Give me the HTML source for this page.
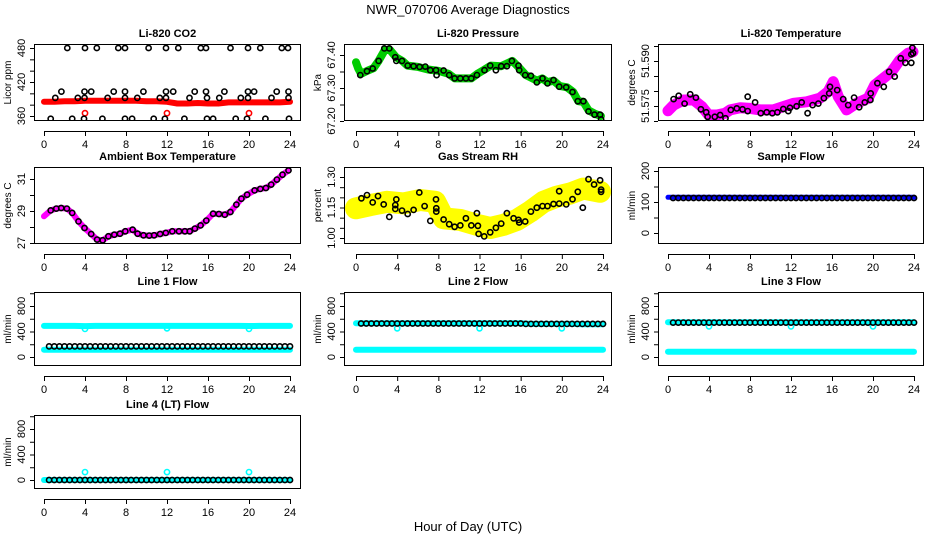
<!DOCTYPE html>
<html><head><meta charset="utf-8"><style>
html,body{margin:0;padding:0;background:#fff}
svg{display:block}
text{font-family:"Liberation Sans",sans-serif}
</style></head><body>
<svg id="chart" width="936" height="540" viewBox="0 0 936 540" xmlns="http://www.w3.org/2000/svg">
<text x="468" y="14" text-anchor="middle" font-size="13">NWR_070706  Average Diagnostics</text>
<text x="468" y="531" text-anchor="middle" font-size="13">Hour of Day (UTC)</text>
</svg>
<script>
// ---------- data ----------
const HOURS = [0,1,2,3,4,5,6,7,8,9,10,11,12,13,14,15,16,17,18,19,20,21,22,23,24];
const HALF = [0.5,1,1.5,2,2.5,3,3.5,4,4.5,5,5.5,6,6.5,7,7.5,8,8.5,9,9.5,10,10.5,11,11.5,12,12.5,13,13.5,14,14.5,15,15.5,16,16.5,17,17.5,18,18.5,19,19.5,20,20.5,21,21.5,22,22.5,23,23.5,24];
const XTICKS = [0,4,8,12,16,20,24];

const co2Red = [385,385,386,386,387,387,387,387,387,387,386,386,385,382,382,383,382,382,384,384,384,384,384,384,385];
const co2RedOutX = [4,12,20];
const co2RedOutY = [365,365,365];
const co2BlackX = [2.27,4.0,5.15,7.25,7.9,10.2,11.9,13.1,15.3,15.8,18.2,19.9,21.1,23.2,23.8,
 0.65,2.75,3.9,5.7,7.9,8.6,10.7,11.8,13.7,15.9,16.5,18.7,19.8,21.6,23.9,
 1.7,3.95,4.6,6.8,7.9,9.7,11.9,12.6,14.7,15.8,17.6,19.9,20.5,22.7,23.85,
 1.1,3.3,3.95,6.2,7.9,9.1,11.3,11.9,14.2,15.9,17.1,19.2,19.9,22.2,23.85];
const co2BlackY = [480,480,480,480,480,480,480,480,480,480,480,480,480,480,480,
 355,355,355,355,355,355,355,355,355,355,355,355,355,355,355,
 403,403,403,403,403,403,403,403,403,403,403,403,403,403,403,
 392,392,392,392,392,392,392,392,392,392,392,392,392,392,392];

const presX = [0.42,1.07,1.62,2.2,2.75,3.24,3.82,3.92,4.47,5.02,5.6,6.18,6.73,7.22,7.77,7.83,8.51,9.06,9.58,10.13,10.68,11.2,11.75,12.49,13.04,13.59,14.11,14.66,15.15,15.79,15.86,16.44,16.99,17.57,18.12,18.61,19.19,19.74,20.42,21.04,21.55,22.1,22.59,23.17,23.72,23.82];
const presY = [67.339,67.351,67.359,67.382,67.420,67.420,67.393,67.382,67.382,67.368,67.366,67.364,67.365,67.354,67.354,67.339,67.353,67.339,67.329,67.329,67.329,67.329,67.339,67.354,67.368,67.354,67.366,67.366,67.382,67.368,67.354,67.339,67.337,67.317,67.329,67.314,67.324,67.304,67.302,67.288,67.260,67.260,67.229,67.219,67.219,67.205];
const presGreenX = [0,0.2,0.5,1.1,1.7,2.2,2.8,3.3,3.9,4.5,5.0,6.0,7.0,8.0,9.0,9.6,11.2,11.8,12.5,13.1,14.1,15.2,15.9,16.5,17.6,18.1,18.6,19.2,19.8,20.5,21.1,21.6,22.1,22.6,23.2,23.8];
const presGreenY = [67.378,67.36,67.343,67.352,67.36,67.382,67.415,67.415,67.393,67.382,67.368,67.364,67.356,67.352,67.343,67.329,67.329,67.343,67.356,67.368,67.366,67.382,67.36,67.339,67.322,67.329,67.318,67.322,67.306,67.302,67.288,67.26,67.258,67.232,67.222,67.215];

const ltempX = [0.55,1.04,1.62,2.17,2.72,3.21,3.73,3.86,4.57,5.09,5.61,6.13,6.71,7.27,7.78,7.78,8.5,9.05,9.63,10.18,10.67,11.25,11.74,11.9,12.55,13.04,13.62,14.11,14.66,15.21,15.73,15.8,16.51,17.09,17.58,18.16,18.65,19.2,19.75,19.78,20.43,21.05,21.57,22.12,22.7,23.16,23.74,23.74,23.9,23.84];
const ltempY = [51.5773,51.5784,51.5758,51.5789,51.5778,51.5739,51.5729,51.5714,51.5714,51.5720,51.5709,51.5737,51.5742,51.5739,51.5733,51.5781,51.5762,51.5726,51.5729,51.5726,51.5729,51.5740,51.5733,51.5744,51.5749,51.5762,51.5726,51.5753,51.5758,51.5776,51.5792,51.5814,51.5803,51.5773,51.5753,51.5778,51.5746,51.5762,51.5770,51.5792,51.5826,51.5814,51.5864,51.5848,51.5909,51.5894,51.5894,51.5922,51.5926,51.5944];
const ltempPinkX = [0,0.55,1.52,2.5,3.31,3.96,4.77,5.58,6.07,7.04,8.01,8.98,10.28,11.26,12.23,13.53,14.82,15.63,16.12,16.61,17.42,18.39,19.53,20.18,20.99,21.8,22.61,23.42,23.9];
const ltempPinkY = [51.5734,51.5753,51.5770,51.5770,51.5748,51.5720,51.5720,51.5726,51.5737,51.5744,51.5742,51.5737,51.5737,51.5748,51.5759,51.5764,51.5776,51.5798,51.5831,51.5781,51.5737,51.5759,51.5776,51.5820,51.5842,51.5864,51.5903,51.5926,51.5931];

const ambX = [0,0.65,1.2,1.68,2.23,2.75,3.37,3.95,4.6,5.18,5.73,6.28,6.86,7.41,7.93,8.64,9.13,9.71,10.26,10.74,11.33,11.88,12.52,13.17,13.75,14.21,14.72,15.28,15.83,16.5,17.06,17.64,18.19,18.77,19.26,19.81,20.55,21.1,21.65,22.17,22.72,23.27,23.85];
const ambY = [28.67,29.04,29.15,29.19,29.15,28.88,28.35,27.94,27.56,27.21,27.17,27.42,27.52,27.58,27.73,27.83,27.58,27.48,27.46,27.48,27.56,27.63,27.73,27.73,27.73,27.73,27.90,28.10,28.40,28.83,28.81,28.77,28.94,29.40,29.77,30.02,30.29,30.38,30.44,30.65,30.96,31.27,31.54];

const rhX = [0.52,1.07,1.62,2.14,2.69,3.24,3.82,3.82,3.92,4.47,5.02,5.6,6.15,6.67,7.22,7.77,7.8,7.8,8.51,9.06,9.58,10.13,10.68,11.2,11.75,11.84,11.91,12.46,13.04,13.59,14.11,14.66,15.31,15.79,15.86,16.44,16.99,17.57,18.12,18.61,19.19,19.74,19.74,20.42,21.04,21.55,22.04,22.59,23.14,23.72,23.82,23.82];
const rhY = [1.195,1.211,1.175,1.206,1.165,1.104,1.162,1.143,1.190,1.135,1.118,1.138,1.224,1.157,1.084,1.190,1.146,1.130,1.091,1.068,1.055,1.062,1.097,1.062,1.122,1.060,1.020,1.008,1.028,1.050,1.071,1.122,1.097,1.089,1.076,1.081,1.130,1.149,1.157,1.157,1.167,1.169,1.230,1.165,1.191,1.227,1.149,1.289,1.263,1.284,1.238,1.227];
const rhYellowX = [0,1.39,3.01,4.63,6.25,7.7,8.51,10.13,11.75,13.04,14.34,15.63,16.93,18.22,19.51,20.81,22.1,23.72];
const rhYellowY = [1.146,1.162,1.178,1.170,1.187,1.178,1.097,1.089,1.065,1.049,1.065,1.089,1.130,1.178,1.203,1.219,1.243,1.227];

const sampleBlue = [115,115,115,115,115,115,115,115,115,115,115,115,115,115,115,115,115,115,115,115,115,115,115,115,115];
const sampleBlack = [113,113,113,113,113,113,113,113,113,113,113,113,113,113,113,113,113,113,113,113,113,113,113,113,113,113,113,113,113,113,113,113,113,113,113,113,113,113,113,113,113,113,113,113,113,113,113,113];

const l1CyanHi = [488,488,488,488,485,488,488,488,488,488,488,488,488,488,488,488,488,488,488,488,486,488,488,488,488];
const l1CyanLo = [114,114,114,114,114,114,114,114,114,114,114,114,114,114,114,114,114,114,114,114,114,114,114,114,114];
const l1Black = [166,166,166,166,166,166,166,166,166,166,166,166,166,166,166,166,166,166,166,166,166,166,166,166,166,166,166,166,166,166,166,166,166,166,166,166,166,166,166,166,166,166,166,166,166,166,166,166];
const l2CyanHi = [530,530,530,530,530,530,530,530,530,530,530,530,530,530,530,530,530,520,520,520,520,520,515,515,515];
const l2CyanLo = [114,114,114,114,114,114,114,114,114,114,114,114,114,114,114,114,114,114,114,114,114,114,114,114,114];
const l2Black = [525,525,525,525,525,525,525,525,525,525,525,525,525,525,525,525,525,525,525,525,525,525,525,525,525,525,525,525,525,525,525,525,520,520,520,520,520,520,520,520,520,520,520,520,520,520,520,520];
const l3CyanHi = [545,545,545,545,545,545,545,545,545,545,545,545,545,545,545,545,545,545,545,545,545,545,545,545,545];
const l3CyanLo = [83,83,83,83,83,83,83,83,83,83,83,83,83,83,83,83,83,83,83,83,83,83,83,83,83];
const l3Black = [540,540,540,540,540,540,540,540,540,540,540,540,540,540,540,540,540,540,540,540,540,540,540,540,540,540,540,540,540,540,540,540,540,540,540,540,540,540,540,540,540,540,540,540,540,540,540,540];
const l4Cyan = [0,0,0,0,0,0,0,0,0,0,0,0,0,0,0,0,0,0,0,0,0,0,0,0,0];
const l4Black = [0,0,0,0,0,0,0,0,0,0,0,0,0,0,0,0,0,0,0,0,0,0,0,0,0,0,0,0,0,0,0,0,0,0,0,0,0,0,0,0,0,0,0,0,0,0,0,0];
const flowOutX = [4,12,20];
const l1OutY = [440,450,440];
const l2OutY = [450,450,450];
const l3OutY = [480,480,480];
const l4OutY = [124,124,124];

// ---------- layout ----------
const COLS = [{l:34,r:301,x0:44,x24:290},{l:344,r:612,x0:356,x24:603},{l:658,r:924,x0:668,x24:914}];
const ROWS = [{t:44,b:121},{t:167,b:244},{t:292,b:366},{t:415,b:489}];
const svg = document.getElementById('chart');
const NS = 'http://www.w3.org/2000/svg';
function mk(tag, parent){ const e=document.createElementNS(NS,tag); parent.appendChild(e); return e; }

function panel(cfg){
  const C=COLS[cfg.col], R=ROWS[cfg.row];
  const g=mk('g',svg);
  
  
  const xs=h=>C.x0+(C.x24-C.x0)*h/24;
  const [v1,p1,v2,p2]=cfg.yref;
  const ys=v=>p1+(v-v1)*(p2-p1)/(v2-v1);
  // clip
  const cid='clip-'+cfg.name;
  const cp=mk('clipPath',g); cp.setAttribute('id',cid);
  const cr=mk('rect',cp); cr.setAttribute('x',C.l); cr.setAttribute('y',R.t); cr.setAttribute('width',C.r-C.l); cr.setAttribute('height',R.b-R.t);
  const plot=mk('g',g); plot.setAttribute('clip-path','url(#'+cid+')');
  
  
  cfg.layers.forEach(L=>{
    if(L.type==='band'){
      const pl=mk('polyline',plot);
      
      
      pl.setAttribute('points', L.x.map((h,i)=>xs(h).toFixed(1)+','+ys(L.y[i]).toFixed(1)).join(' '));
      pl.setAttribute('fill','none'); pl.setAttribute('stroke',L.color);
      pl.setAttribute('stroke-width',L.w); pl.setAttribute('stroke-linejoin','round'); pl.setAttribute('stroke-linecap','round');
    } else {
      L.x.forEach((h,i)=>{
        const c=mk('circle',plot);
        
        
        c.setAttribute('cx',xs(h).toFixed(1)); c.setAttribute('cy',ys(L.y[i]).toFixed(1));
        c.setAttribute('r',L.r||2.6); c.setAttribute('fill','none');
        c.setAttribute('stroke',L.color); c.setAttribute('stroke-width',L.sw||1.6);
      });
    }
  });
  // box
  const box=mk('rect',g);
  
  
  box.setAttribute('x',C.l+0.5); box.setAttribute('y',R.t+0.5); box.setAttribute('width',C.r-C.l-1); box.setAttribute('height',R.b-R.t-1);
  box.setAttribute('fill','none'); box.setAttribute('stroke','#000'); box.setAttribute('stroke-width','1');
  // title
  const ti=mk('text',g);
  
  
  ti.setAttribute('x',(C.l+C.r)/2); ti.setAttribute('y',R.t-7); ti.setAttribute('text-anchor','middle');
  ti.setAttribute('font-size','11'); ti.setAttribute('font-weight','bold'); ti.textContent=cfg.title;
  // x axis
  const ay=R.b+10;
  const xa=mk('line',g);
  
  
  xa.setAttribute('x1',xs(0)); xa.setAttribute('x2',xs(24)); xa.setAttribute('y1',ay+0.5); xa.setAttribute('y2',ay+0.5); xa.setAttribute('stroke','#000');
  XTICKS.forEach(h=>{
    const tk=mk('line',g);
    
    
    tk.setAttribute('x1',xs(h)+0.5); tk.setAttribute('x2',xs(h)+0.5); tk.setAttribute('y1',ay); tk.setAttribute('y2',ay+5); tk.setAttribute('stroke','#000');
    if(cfg.xlabels){
      const tl=mk('text',g);
      
      
      tl.setAttribute('x',xs(h)); tl.setAttribute('y',ay+17); tl.setAttribute('text-anchor','middle'); tl.setAttribute('font-size','11');
      tl.textContent=String(h);
    }
  });
  // y axis
  const yt=cfg.yticks;
  const ya=mk('line',g);
  
  
  ya.setAttribute('x1',C.l+0.5); ya.setAttribute('x2',C.l+0.5); ya.setAttribute('y1',ys(yt[0])); ya.setAttribute('y2',ys(yt[yt.length-1])); ya.setAttribute('stroke','#000');
  yt.forEach(v=>{
    const y=ys(v);
    if(y<R.t-1||y>R.b+1) return;
    const tk=mk('line',g);
    
    
    tk.setAttribute('x1',C.l-4); tk.setAttribute('x2',C.l); tk.setAttribute('y1',y+0.5); tk.setAttribute('y2',y+0.5); tk.setAttribute('stroke','#000');
  });
  cfg.ylabels.forEach((lab,i)=>{
    const y=ys(cfg.ylabelVals[i]);
    const tl=mk('text',g);
    
    
    tl.setAttribute('transform','translate('+(C.l-9)+','+y+') rotate(-90)');
    tl.setAttribute('text-anchor','middle'); tl.setAttribute('font-size','11');
    tl.textContent=lab;
  });
  const yl=mk('text',g);
  
  
  yl.setAttribute('transform','translate('+(C.l-23)+','+((R.t+R.b)/2)+') rotate(-90)');
  yl.setAttribute('text-anchor','middle'); yl.setAttribute('font-size','10'); yl.textContent=cfg.ylab;
}

const flowTicks=[0,200,400,600,800,1000];
panel({name:'co2-panel',col:0,row:0,title:'Li-820 CO2',ylab:'Licor ppm',xlabels:true,yref:[480,48,360,116],
  yticks:[360,380,400,420,440,460,480],ylabels:['360','420','480'],ylabelVals:[360,420,480],
  layers:[{type:'band',name:'co2-red-band',x:HOURS,y:co2Red,color:'#ff0000',w:6},
          {type:'pts',name:'co2-red-point',x:co2RedOutX,y:co2RedOutY,color:'#ff0000'},
          {type:'pts',name:'co2-black-point',x:co2BlackX,y:co2BlackY,color:'#000'}]});
panel({name:'pressure-panel',col:1,row:0,title:'Li-820 Pressure',ylab:'kPa',xlabels:true,yref:[67.40,55,67.20,121],
  yticks:[67.20,67.25,67.30,67.35,67.40],ylabels:['67.20','67.30','67.40'],ylabelVals:[67.20,67.30,67.40],
  layers:[{type:'band',name:'pressure-green-band',x:presGreenX,y:presGreenY,color:'#00cc00',w:8},
          {type:'pts',name:'pressure-black-point',x:presX,y:presY,color:'#000'}]});
panel({name:'li820-temp-panel',col:2,row:0,title:'Li-820 Temperature',ylab:'degrees C',xlabels:true,yref:[51.590,61,51.575,106],
  yticks:[51.570,51.575,51.580,51.585,51.590,51.595],ylabels:['51.575','51.590'],ylabelVals:[51.575,51.590],
  layers:[{type:'band',name:'li820-temp-magenta-band',x:ltempPinkX,y:ltempPinkY,color:'#ff00ff',w:11},
          {type:'pts',name:'li820-temp-black-point',x:ltempX,y:ltempY,color:'#000'}]});
panel({name:'ambient-temp-panel',col:0,row:1,title:'Ambient Box Temperature',ylab:'degrees C',xlabels:true,yref:[31,179,27,243],
  yticks:[27,28,29,30,31],ylabels:['27','29','31'],ylabelVals:[27,29,31],
  layers:[{type:'band',name:'ambient-magenta-band',x:ambX,y:ambY,color:'#ff00ff',w:6},
          {type:'pts',name:'ambient-black-point',x:ambX.slice(1),y:ambY.slice(1),color:'#000'}]});
panel({name:'rh-panel',col:1,row:1,title:'Gas Stream RH',ylab:'percent',xlabels:true,yref:[1.30,177,1.00,238],
  yticks:[1.00,1.05,1.10,1.15,1.20,1.25,1.30],ylabels:['1.00','1.15','1.30'],ylabelVals:[1.00,1.15,1.30],
  layers:[{type:'band',name:'rh-yellow-band',x:rhYellowX,y:rhYellowY,color:'#ffff00',w:22},
          {type:'pts',name:'rh-black-point',x:rhX,y:rhY,color:'#000'}]});
panel({name:'sample-flow-panel',col:2,row:1,title:'Sample Flow',ylab:'ml/min',xlabels:true,yref:[200,171,0,233],
  yticks:[0,50,100,150,200],ylabels:['0','100','200'],ylabelVals:[0,100,200],
  layers:[{type:'band',name:'sample-blue-band',x:HOURS,y:sampleBlue,color:'#0000ff',w:5},
          {type:'pts',name:'sample-black-point',x:HALF,y:sampleBlack,color:'#000'}]});
panel({name:'line1-flow-panel',col:0,row:2,title:'Line 1 Flow',ylab:'ml/min',xlabels:true,yref:[800,306,0,357],
  yticks:flowTicks,ylabels:['0','400','800'],ylabelVals:[0,400,800],
  layers:[{type:'band',name:'line1-cyan-high',x:HOURS,y:l1CyanHi,color:'#00ffff',w:6},
          {type:'band',name:'line1-cyan-low',x:HOURS,y:l1CyanLo,color:'#00ffff',w:6},
          {type:'pts',name:'line1-cyan-outlier',x:flowOutX,y:l1OutY,color:'#00ffff'},
          {type:'pts',name:'line1-black-point',x:HALF,y:l1Black,color:'#000'}]});
panel({name:'line2-flow-panel',col:1,row:2,title:'Line 2 Flow',ylab:'ml/min',xlabels:true,yref:[800,306,0,357],
  yticks:flowTicks,ylabels:['0','400','800'],ylabelVals:[0,400,800],
  layers:[{type:'band',name:'line2-cyan-high',x:HOURS,y:l2CyanHi,color:'#00ffff',w:6},
          {type:'band',name:'line2-cyan-low',x:HOURS,y:l2CyanLo,color:'#00ffff',w:6},
          {type:'pts',name:'line2-cyan-outlier',x:flowOutX,y:l2OutY,color:'#00ffff'},
          {type:'pts',name:'line2-black-point',x:HALF,y:l2Black,color:'#000'}]});
panel({name:'line3-flow-panel',col:2,row:2,title:'Line 3 Flow',ylab:'ml/min',xlabels:true,yref:[800,306,0,357],
  yticks:flowTicks,ylabels:['0','400','800'],ylabelVals:[0,400,800],
  layers:[{type:'band',name:'line3-cyan-high',x:HOURS,y:l3CyanHi,color:'#00ffff',w:6},
          {type:'band',name:'line3-cyan-low',x:HOURS,y:l3CyanLo,color:'#00ffff',w:6},
          {type:'pts',name:'line3-cyan-outlier',x:flowOutX,y:l3OutY,color:'#00ffff'},
          {type:'pts',name:'line3-black-point',x:HALF,y:l3Black,color:'#000'}]});
panel({name:'line4-flow-panel',col:0,row:3,title:'Line 4 (LT) Flow',ylab:'ml/min',xlabels:true,yref:[800,429,0,480],
  yticks:flowTicks,ylabels:['0','400','800'],ylabelVals:[0,400,800],
  layers:[{type:'band',name:'line4-cyan-band',x:HOURS,y:l4Cyan,color:'#00ffff',w:6},
          {type:'pts',name:'line4-cyan-outlier',x:flowOutX,y:l4OutY,color:'#00ffff'},
          {type:'pts',name:'line4-black-point',x:HALF,y:l4Black,color:'#000'}]});
</script>
</body></html>
